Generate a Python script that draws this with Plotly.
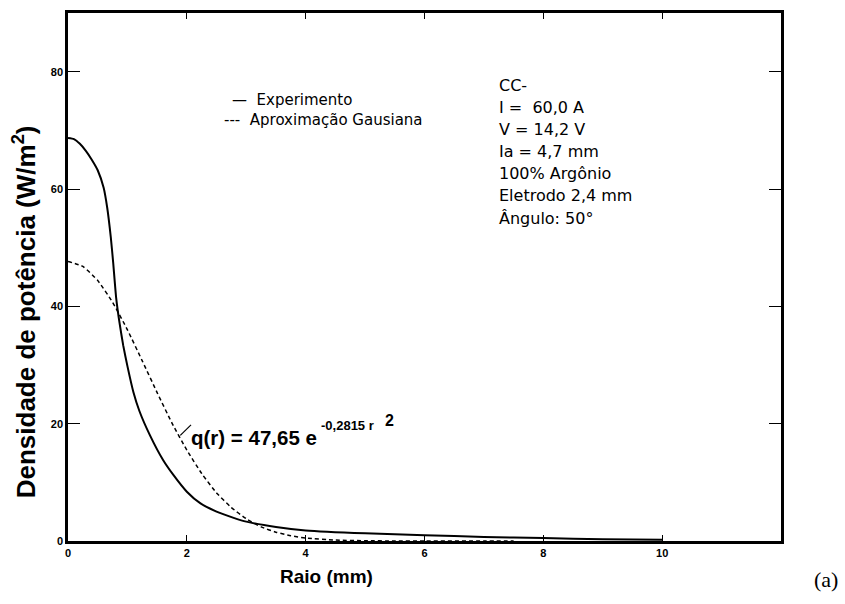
import plotly.graph_objects as go

r_exp = [0, 0.1, 0.2, 0.3, 0.4, 0.5, 0.6, 0.66, 0.72, 0.76, 0.81, 0.87, 0.93, 1.0, 1.1, 1.2, 1.38,
         1.6, 1.77, 2.0, 2.23, 2.5, 2.8, 3.0, 3.5, 4.0, 5.0, 6.0, 7.0, 8.0, 9.0, 10.0]
q_exp = [68.7, 68.5, 67.7, 66.5, 65.0, 63.2, 60.2, 56.8, 51.8, 47.5, 41.5, 37.0, 33.3, 29.8, 25.4,
         22.2, 18.0, 13.8, 11.3, 8.4, 6.4, 5.0, 3.9, 3.3, 2.4, 1.8, 1.3, 1.0, 0.7, 0.5, 0.3, 0.2]

# Gaussian approximation curve
r_gau = [0, 0.25, 0.5, 0.75, 1.0, 1.25, 1.5, 1.75, 2.0, 2.25, 2.5, 2.75, 3.0, 3.25, 3.5, 3.75,
         4.0, 4.5, 5.0, 5.5, 6.0, 7.0, 7.5]
q_gau = [47.65, 46.8, 44.4, 40.7, 36.0, 30.7, 25.3, 20.1, 15.5, 11.5, 8.2, 5.7, 3.8, 2.4, 1.5, 0.9,
         0.5, 0.16, 0.04, 0.01, 0.0, 0.0, 0.0]

x_ticks = [0, 2, 4, 6, 8, 10]
y_ticks = [0, 20, 40, 60, 80]

info_lines = ["CC-", "I =  60,0 A", "V = 14,2 V", "Ia = 4,7 mm", "100% Argônio",
              "Eletrodo 2,4 mm", "Ângulo: 50°"]
legend_labels = ["Experimento", "Aproximação Gausiana"]

FONT = "Liberation Sans, Arial, sans-serif"
WIDE = "DejaVu Sans, Verdana, sans-serif"

W, H = 845, 604
L, R, T, B = 68, 64, 10, 63
PW, PH = W - L - R, H - T - B


def px(x):
    return (x - L) / PW


def py(y):
    return 1 - (y - T) / PH


fig = go.Figure()
fig.add_trace(go.Scatter(x=r_exp, y=q_exp, mode="lines", name=legend_labels[0],
                         line=dict(color="black", width=2, shape="spline", smoothing=0.5)))
fig.add_trace(go.Scatter(x=r_gau, y=q_gau, mode="lines", name=legend_labels[1],
                         line=dict(color="black", width=1.5, dash="4px,3px", shape="spline", smoothing=0.5)))

axis_common = dict(showgrid=False, zeroline=False, showline=True, linecolor="black", linewidth=2.5,
                   mirror="ticks", ticks="inside", ticklen=12, tickwidth=1.2, tickcolor="black",
                   tickfont=dict(family=FONT, size=11, color="black", weight="bold"))

fig.update_layout(
    width=W, height=H,
    margin=dict(l=L, r=R, t=T, b=B),
    paper_bgcolor="white", plot_bgcolor="white",
    showlegend=False,
    xaxis=dict(range=[0, 12], tickvals=x_ticks, ticktext=[str(v) for v in x_ticks], **axis_common),
    yaxis=dict(range=[0, 90], tickvals=y_ticks, ticktext=[str(v) for v in y_ticks], **axis_common),
)
fig.update_xaxes(ticklen=6)


def txt(text, x, y, size, family=FONT, xanchor="left", weight="normal", angle=0):
    return dict(text=text, x=px(x), xref="paper", y=py(y), yref="paper", showarrow=False,
                xanchor=xanchor, yanchor="middle", textangle=angle,
                font=dict(family=family, size=size, color="black", weight=weight))


annots = []
# axis titles
annots.append(txt("Raio (mm)", 326, 577, 19, xanchor="center", weight="bold"))
annots.append(txt("Densidade de potência (W/m<sup>2</sup>)", 24, 311, 26, xanchor="center",
                  weight="bold", angle=-90))
# panel label
annots.append(txt("(a)", 826, 580, 22, family="Liberation Serif, Times New Roman, serif", xanchor="center"))
# legend-like text
annots.append(txt("—  " + legend_labels[0], 230, 97, 15, family=WIDE))
annots.append(txt("---  " + legend_labels[1], 222, 118, 15, family=WIDE))
# info block
for i, line in enumerate(info_lines):
    annots.append(txt(line, 497, 83 + 22.2 * i, 16, family=WIDE))
# equation
annots.append(txt("q(r) = 47,65 e", 189, 437, 20.5, weight="bold"))
annots.append(txt("-0,2815 r", 319, 425, 13, weight="bold"))
annots.append(txt("2", 383, 420, 16, weight="bold"))

fig.update_layout(annotations=annots)
# leader line from equation to dashed curve
fig.add_shape(type="line", x0=1.89, y0=18.0, x1=2.07, y1=19.8, xref="x", yref="y",
              line=dict(color="black", width=1.2))

fig.write_html("out.html")
